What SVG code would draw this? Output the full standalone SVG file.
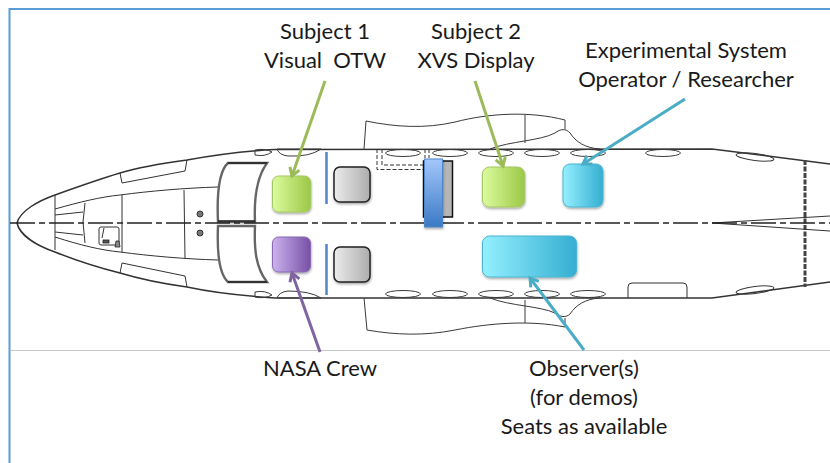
<svg xmlns="http://www.w3.org/2000/svg" width="830" height="463" viewBox="0 0 830 463">
<style>
text{font-family:Lato,"Liberation Sans",sans-serif;font-size:22px;fill:#1a1a1a;text-anchor:middle}
.l{fill:none;stroke:#333;stroke-width:1}
.f{fill:none;stroke:#333;stroke-width:1.5}
.w{fill:none;stroke:#3a3a3a;stroke-width:1}
.ws{fill:#fff;stroke:#666;stroke-width:2.400}
.d{fill:none;stroke:#333;stroke-width:1;stroke-dasharray:4 2}
.s{filter:url(#sh)}
.arr{fill:none;stroke-width:3}
.g{stroke:#9bbb59}.p{stroke:#8064a2}.c{stroke:#4bacc6}
</style>
<defs>
<linearGradient id="gg"><stop offset="0" stop-color="#dcfb9e"/><stop offset="1" stop-color="#9cc846"/></linearGradient>
<linearGradient id="gp"><stop offset="0" stop-color="#cbb2ee"/><stop offset="1" stop-color="#7850a6"/></linearGradient>
<linearGradient id="gy"><stop offset="0" stop-color="#ececec"/><stop offset="1" stop-color="#adadad"/></linearGradient>
<linearGradient id="gc"><stop offset="0" stop-color="#94f0ff"/><stop offset="1" stop-color="#35aed2"/></linearGradient>
<linearGradient id="gb" x2="0" y2="1"><stop offset="0" stop-color="#a3c7fb"/><stop offset="1" stop-color="#3a79c6"/></linearGradient>
<filter id="sh" x="-20%" y="-20%" width="140%" height="140%"><feDropShadow dx="0.5" dy="1.5" stdDeviation="1.2" flood-color="#000" flood-opacity="0.35"/></filter>
<marker id="mg" markerUnits="userSpaceOnUse" markerWidth="16" markerHeight="16" refX="12" refY="7" orient="auto"><path d="M4,2 L12,7 L4,12" fill="none" stroke="#9bbb59" stroke-width="3"/></marker>
<marker id="mp" markerUnits="userSpaceOnUse" markerWidth="16" markerHeight="16" refX="12" refY="7" orient="auto"><path d="M4,2 L12,7 L4,12" fill="none" stroke="#8064a2" stroke-width="3"/></marker>
<marker id="mc" markerUnits="userSpaceOnUse" markerWidth="16" markerHeight="16" refX="12" refY="7" orient="auto"><path d="M4,2 L12,7 L4,12" fill="none" stroke="#4bacc6" stroke-width="3"/></marker>
</defs>
<rect width="830" height="463" fill="#fff"/>
<path d="M830,9 H9.500 V463" fill="none" stroke="#5b9bd5" stroke-width="2"/>
<line x1="10" y1="350.500" x2="830" y2="350.500" stroke="#c8c8c8" stroke-width="1"/>
<g id="airframe">
<path class="f" d="M17,223 C20,211 38,201 55,195 C80,186 100,179 120,173 C140,167 165,163 187,160 C215,155 245,151 275,149.500 L712,149 L830,164"/>
<path class="f" d="M17,223 C20,236 38,246 55,252 C80,262 100,268 120,273 C140,279 165,284 187,287 C215,293 245,296 275,298 L712,298 L830,282"/>
<path class="l" d="M55,195 V250 M55,209 C80,202 100,197 120,195 C150,191 185,188 218,187 M55,237 C80,245 100,250 120,252 C150,256 185,259 218,260"/>
<path class="l" d="M85,203 L83,222 L85,243 M122,195 V252 M184,190 L185,258 M55,215 L83,212 M55,232 L83,235"/>
<path class="l" d="M120,173 L122,183 L185,171 L187,160 M120,273 L122,263 L185,276 L187,287"/>
<circle cx="200" cy="214" r="3" fill="#777" stroke="#333"/><circle cx="200" cy="233" r="3" fill="#777" stroke="#333"/>
<rect x="99" y="227" width="20" height="18" rx="2" class="l"/>
<path class="l" d="M104,228 L102,238"/><rect x="103" y="240" width="6" height="3" fill="#555" stroke="#222" stroke-width="0.800"/><path d="M115,247 L116,241 L119,241 L120,247 Z" fill="#888" stroke="#222" stroke-width="0.800"/>
<path class="ws" d="M267,163 H228 C218,172 217,200 218,222 H255 C254,200 256,178 267,163 Z"/>
<path class="ws" d="M267,282 H228 C218,273 217,250 218,226 H255 C254,250 256,268 267,282 Z"/>
<path stroke="#222" stroke-width="1.500" d="M228,163 H267 M228,282 H267 M218,221 H255" fill="none"/>
<path class="w" d="M364,149 L366,121 C395,127 425,129 455,122 C490,113 530,111 565,120 V129 M525,115 V143 M490,149 C510,141 540,141 555,133 C560,129 566,128 570,133 C576,142 585,148 600,149"/>
<path class="w" d="M364,298 L367,330 C395,335 425,336 455,330 C490,323 530,320 565,327 V318 M525,323 V300 M490,298 C510,306 540,306 555,313 C560,317 566,318 570,314 C576,305 585,299 600,298"/>
<path class="d" d="M377,149 V169.500 H423 M382,149 V165 H423 M425,149 V158 M429,149 V158"/>
<g class="w">
<path d="M255,150 Q265,148 272,152 Q265,157 255,155 Z M277,149 H321 Q310,157 288,156 Q279,155 277,149 Z"/>
<ellipse cx="403" cy="153" rx="17.500" ry="3.500"/><ellipse cx="450" cy="153" rx="17.500" ry="3.500"/><ellipse cx="496" cy="153" rx="17.500" ry="3.500"/><ellipse cx="542" cy="153" rx="17.500" ry="3.500"/><ellipse cx="588" cy="153" rx="17.500" ry="3.500"/><ellipse cx="663" cy="153" rx="17.500" ry="3.500"/>
<ellipse cx="755" cy="157" rx="19" ry="3.500" transform="rotate(7 755 157)"/>
<path d="M255,297 Q265,299 272,295 Q265,290 255,292 Z M277,298 H321 Q310,291 288,291 Q279,292 277,298 Z"/>
<ellipse cx="403" cy="294" rx="17.500" ry="3.500"/><ellipse cx="450" cy="294" rx="17.500" ry="3.500"/><ellipse cx="496" cy="294" rx="17.500" ry="3.500"/><ellipse cx="542" cy="294" rx="17.500" ry="3.500"/><ellipse cx="588" cy="294" rx="17.500" ry="3.500"/>
<ellipse cx="755" cy="290" rx="19" ry="3.500" transform="rotate(-7 755 290)"/>
</g>
<path class="l" d="M628,298 V287 Q628,283 632,283 H683 Q687,283 687,287 V298"/>
<path d="M805,160 V287" fill="none" stroke="#444" stroke-width="3" stroke-dasharray="5 1.500"/>
<path class="l" d="M712,223 L830,216 M712,223 L830,231"/>
<line x1="10" y1="223" x2="830" y2="223" stroke="#222" stroke-width="1.300" stroke-dasharray="25 4 6 4"/>
</g>
<g id="partition-upper"><line x1="326.500" y1="152" x2="326.500" y2="204" stroke="#4f86c6" stroke-width="2.500"/></g>
<g id="partition-lower"><line x1="326.500" y1="244" x2="326.500" y2="295" stroke="#4f86c6" stroke-width="2.500"/></g>
<g id="seat-subject1"><rect class="s" x="272.500" y="176" width="38" height="36" rx="6" fill="url(#gg)" stroke="#a5c763"/></g>
<g id="seat-crew"><rect class="s" x="272.500" y="237" width="38" height="35" rx="6" fill="url(#gp)" stroke="#8a6bb0"/></g>
<g id="seat-gray-upper"><rect class="s" x="334" y="167" width="36" height="35" rx="6" fill="url(#gy)" stroke="#222" stroke-width="1.500"/></g>
<g id="seat-gray-lower"><rect class="s" x="334" y="247" width="36" height="35" rx="6" fill="url(#gy)" stroke="#222" stroke-width="1.500"/></g>
<g id="xvs-display">
<rect x="423.500" y="161" width="29" height="56" fill="#b6b6b6" stroke="#111" stroke-width="1.500"/>
<rect class="s" x="424.500" y="159" width="18" height="68" fill="url(#gb)" stroke="#4f86c6"/>
</g>
<g id="seat-subject2"><rect class="s" x="482.500" y="167" width="42" height="40" rx="7" fill="url(#gg)" stroke="#a5c763"/></g>
<g id="seat-operator"><rect class="s" x="563" y="164" width="40" height="43" rx="7" fill="url(#gc)" stroke="#4bb4d0"/></g>
<g id="seat-observer"><rect class="s" x="482.500" y="236" width="94" height="41" rx="7" fill="url(#gc)" stroke="#4bb4d0"/></g>
<g id="connectors">
<line class="arr g" x1="325" y1="81" x2="292" y2="176" marker-end="url(#mg)"/>
<line class="arr g" x1="475" y1="81" x2="503" y2="166" marker-end="url(#mg)"/>
<line class="arr c" x1="685" y1="99" x2="583" y2="164" marker-end="url(#mc)"/>
<line class="arr p" x1="320" y1="352" x2="292" y2="273" marker-end="url(#mp)"/>
<line class="arr c" x1="584" y1="350" x2="530" y2="278" marker-end="url(#mc)"/>
</g>
<g id="labels">
<text x="325" y="39">Subject 1</text>
<text x="325" y="68" xml:space="preserve">Visual  OTW</text>
<text x="476" y="39">Subject 2</text>
<text x="476" y="68">XVS Display</text>
<text x="686" y="58">Experimental System</text>
<text x="686" y="87">Operator / Researcher</text>
<text x="320" y="376">NASA Crew</text>
<text x="584" y="376">Observer(s)</text>
<text x="584" y="405">(for demos)</text>
<text x="584" y="434">Seats as available</text>
</g>
</svg>
